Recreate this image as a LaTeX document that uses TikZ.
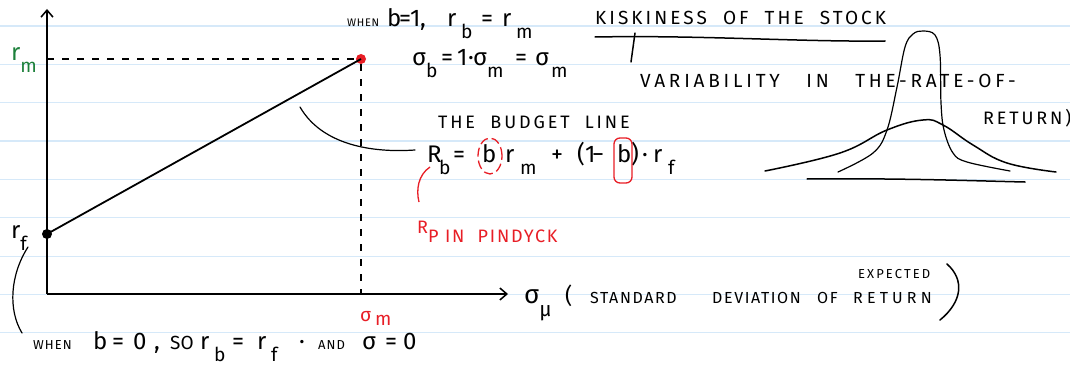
\documentclass[tikz,border=0pt]{standalone}
\usepackage{fontspec}
\setmainfont{Fira Sans}
\usetikzlibrary{arrows.meta}
\definecolor{ruled}{RGB}{214,233,249}
\definecolor{hgreen}{RGB}{28,128,58}
\definecolor{hred}{RGB}{232,30,38}
\newcommand{\sbs}[1]{\raisebox{-0.5em}{\scalebox{0.8}{#1}}}
\newcommand{\at}[2]{\makebox[0pt][l]{\hspace*{#1pt}#2}}
\newcommand{\fbig}{\fontsize{24}{26}\selectfont}
\newcommand{\fcap}{\fontsize{18}{21}\selectfont\addfontfeature{LetterSpace=16}}
\newcommand{\fsml}{\fontsize{13}{15}\selectfont\addfontfeature{LetterSpace=8}}
\begin{document}
\begin{tikzpicture}[x=1pt,y=-1pt,
  ink/.style={line width=1.5pt,line cap=round,line join=round},
  axis/.style={line width=1.8pt,-{Straight Barb[length=7pt,width=12pt,line width=1.5pt]}},
  dashink/.style={line width=1.5pt,dash pattern=on 7pt off 8pt},
  dot/.style={circle,inner sep=0pt,minimum size=10pt},
  hw/.style={inner sep=0pt,anchor=base west,font=\fbig},
  capt/.style={inner sep=0pt,anchor=base west,font=\fcap}]
\useasboundingbox (0,0) rectangle (1070,369);
\fill[white] (0,0) rectangle (1070,369);
\foreach \k in {0,...,8}
  \draw[ruled,line width=1.2pt] (0,26+38.35*\k) -- (1070,26+38.35*\k);

% axes
\coordinate (O) at (47,294);
\coordinate (ytop) at (47,9);
\coordinate (xend) at (508,294);
\draw[axis] (O) -- (ytop);
\draw[axis] (O) -- (xend);

% points and lines
\node[dot,fill=black] (rf) at (47,234) {};
\node[dot,fill=hred] (mk) at (361,59) {};
\coordinate (ym) at (47,59);
\draw[dashink] (ym) -- (mk);
\draw[dashink] (mk) -- (mk|-O);
\draw[line width=1.8pt] (rf.center) -- (mk.center);

% axis labels
\node[hw,text=hgreen] (lrm) at (11,60) {r\sbs{m}};
\node[hw] (lrf) at (11,238) {r\sbs{f}};
\node[hw,text=hred,font=\fontsize{19}{21}\selectfont] (lsm) at (360,321) {\at{0}{σ}\at{15}{\raisebox{-4pt}{m}}\hspace*{32pt}};

% top annotation
\node[hw] (wb1) at (347,27) {\at{0}{\fontsize{11}{13}\selectfont\addfontfeature{LetterSpace=6}WHEN}\at{40}{b}\at{52}{=}\at{63}{1}\at{73}{,}\at{100}{r}\at{114}{\sbs{b}}\at{134}{=}\at{155}{r}\at{169}{\sbs{m}}\hspace*{186pt}};
\node[hw] (sb) at (412,66) {\at{0}{σ}\at{14}{\sbs{b}}\at{29}{=}\at{45}{1}\at{56}{·}\at{61}{σ}\at{75}{\sbs{m}}\at{103}{=}\at{123}{σ}\at{139}{\sbs{m}}\hspace*{156pt}};

% riskiness
\node[capt,font=\fontsize{19}{21}\selectfont\addfontfeature{LetterSpace=16}] (kis) at (595,25) {KISKINESS\ \ OF\ \ THE\ \ STOCK};
\coordinate (u1) at (595,37);
\coordinate (u2) at (885,41);
\draw[ink] (u1) .. controls (700,35) and (800,42) .. (u2);
\coordinate (t1) at (635,33);
\coordinate (t2) at (631,62);
\draw[ink] (t1) -- (t2);
\node[capt,font=\fontsize{19}{21}\selectfont\addfontfeature{LetterSpace=20}] (var) at (640,87) {VARIABILITY\ \ \ IN\ \ \ THE-RATE-OF-};
\node[capt] (ret) at (983,124) {RETURN)};

% bell curves
\draw[ink] plot[smooth,tension=0.7] coordinates {(765,171) (840,153) (887,130) (923,120) (943,125) (973,145) (1007,163) (1056,172)};
\draw[ink,line width=1.2pt] plot[smooth,tension=0.6] coordinates {(838,172) (873,153) (887,130) (897,87) (905,47) (913,34) (923,31) (935,35) (940,55) (941,103) (944,130) (953,153) (967,162) (1010,171)};
\coordinate (b1) at (807,179);
\coordinate (b2) at (1025,182);
\draw[ink] (b1) .. controls (900,178) and (980,181) .. (b2);

% budget line
\node[capt] (bud) at (438,128) {THE\ \ BUDGET\ \ LINE};
\node[hw] (form) at (427,162) {\at{0}{R}\at{12}{\sbs{b}}\at{26}{=}\at{55}{b}\at{78}{r}\at{93}{\sbs{m}}\at{124}{+}\at{150}{(}\at{158}{1}\at{165}{−}\at{190}{b}\at{204}{)}\at{215}{·}\at{226}{r}\at{241}{\sbs{f}}\hspace*{262pt}};
\draw[hred,line width=1.3pt,dash pattern=on 9pt off 4pt] (490,156) ellipse (12pt and 18pt);
\draw[hred,line width=1.3pt,rounded corners=6pt] (614,138) rectangle (632,183);
\coordinate (bc) at (300,107);
\coordinate (fend) at (415,150);
\draw[ink,line width=1.2pt] (bc) .. controls (322,145) and (372,153) .. (fend);
\coordinate (p1) at (430,167);
\coordinate (p2) at (419,202);
\draw[hred,line width=1.3pt] (p1) .. controls (418,175) and (416,190) .. (p2);
\node[capt,text=hred,font=\fontsize{18}{21}\selectfont\addfontfeature{LetterSpace=10}] (pin) at (417,233) {R\raisebox{-9pt}{P\ IN\ \ PINDYCK}};

% x axis label
\node[hw,font=\fontsize{26}{28}\selectfont] (xs) at (524,303) {σ\sbs{μ}};
\node[capt,font=\fontsize{16}{19}\selectfont\addfontfeature{LetterSpace=10}] (xl) at (563,303) {\at{2}{\fontsize{22}{22}\selectfont(}\at{27}{STANDARD}\at{149}{DEVIATION}\at{254}{OF}\at{290}{\addfontfeature{LetterSpace=26}RETURN}\hspace*{380pt}};
\node[capt,font=\fsml\addfontfeature{LetterSpace=16}] (exp) at (858,278) {EXPECTED};
\coordinate (c1) at (947,264);
\coordinate (c2) at (940,320);
\draw[ink] (c1) .. controls (965,280) and (962,302) .. (c2);

% bottom annotation
\node[hw] (wb0) at (33,349) {\at{0}{\fsml WHEN}\at{60}{b}\at{79}{=}\at{100}{0}\at{121}{,}\at{137}{\fontsize{19}{20}\selectfont SO}\at{167}{r}\at{181}{\sbs{b}}\at{199}{=}\at{224}{r}\at{238}{\sbs{f}}\at{266}{·}\at{285}{\fsml AND}\at{329}{σ}\at{352}{=}\at{370}{0}\hspace*{380pt}};
\coordinate (l1) at (28,247);
\coordinate (l2) at (22,333);
\draw[ink,line width=1.2pt] (l1) .. controls (10,275) and (8,310) .. (l2);
\end{tikzpicture}
\end{document}
